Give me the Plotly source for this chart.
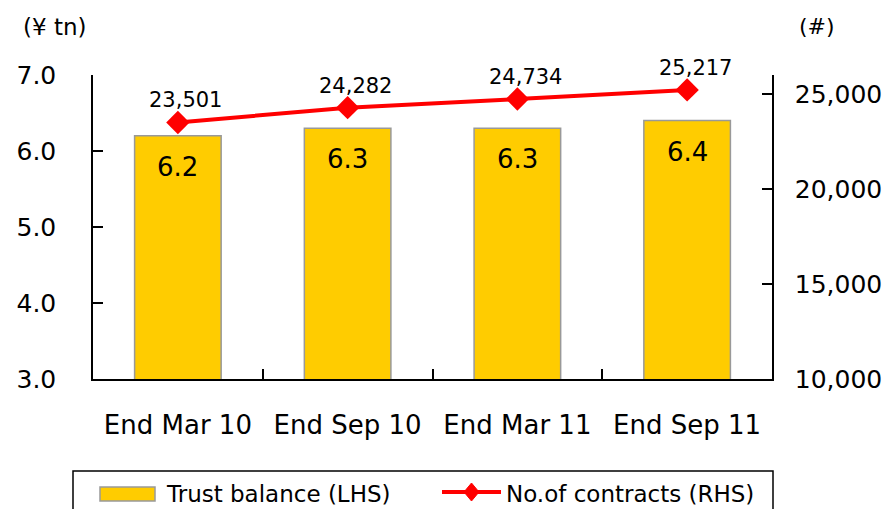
import plotly.graph_objects as go

# Trust balance and number of contracts by period end
categories = ["End Mar 10", "End Sep 10", "End Mar 11", "End Sep 11"]
trust_balance = [6.2, 6.3, 6.3, 6.4]          # ¥ tn (LHS)
contracts = [23501, 24282, 24734, 25217]       # count (RHS)

left_ticks = [3.0, 4.0, 5.0, 6.0, 7.0]
right_ticks = [10000, 15000, 20000, 25000]

series_names = ["Trust balance (LHS)", "No.of contracts (RHS)"]

FONT = "DejaVu Sans"
BAR_FILL, BAR_EDGE, LINE_RED = "#FFCC00", "#999999", "#FF0000"

W, H = 888, 509
L, R, T, B = 93, 116, 75, 130
pw, ph = W - L - R, H - T - B


def px_x(x):
    """Pixel x (from left) -> paper coordinate."""
    return (x - L) / pw


def px_y(y):
    """Pixel y (from top) -> paper coordinate."""
    return (H - B - y) / ph


fig = go.Figure()

fig.add_trace(go.Bar(
    x=categories, y=trust_balance, name=series_names[0],
    marker=dict(color=BAR_FILL, line=dict(color=BAR_EDGE, width=1.5)),
    yaxis="y",
))

fig.add_trace(go.Scatter(
    x=categories, y=contracts, name=series_names[1],
    mode="lines+markers",
    line=dict(color=LINE_RED, width=4),
    marker=dict(symbol="diamond", size=18, color=LINE_RED),
    yaxis="y2",
))

annotations = []
# value labels inside the bars
for c, v in zip(categories, trust_balance):
    annotations.append(dict(
        x=c, y=v, xref="x", yref="y", text=f"{v:.1f}", showarrow=False,
        yshift=-31, font=dict(family=FONT, size=26, color="black"),
    ))
# value labels above the line points
for c, v in zip(categories, contracts):
    annotations.append(dict(
        x=c, y=v, xref="x", yref="y2", text=f"{v:,}", showarrow=False,
        xshift=8, yshift=22, font=dict(family=FONT, size=21, color="black"),
    ))

# unit captions above each value axis
annotations.append(dict(
    x=px_x(55), y=px_y(27), xref="paper", yref="paper",
    xanchor="center", yanchor="middle",
    text="(¥ tn)", showarrow=False,
    font=dict(family=FONT, size=23, color="black"),
))
annotations.append(dict(
    x=px_x(817), y=px_y(27), xref="paper", yref="paper",
    xanchor="center", yanchor="middle",
    text="(#)", showarrow=False,
    font=dict(family=FONT, size=22, color="black"),
))

# legend: framed box below the category labels
shapes = [
    dict(type="rect", xref="paper", yref="paper",
         x0=px_x(73), x1=px_x(773), y0=px_y(530), y1=px_y(471),
         line=dict(color="black", width=1.5), fillcolor="white", layer="below"),
    dict(type="rect", xref="paper", yref="paper",
         x0=px_x(100), x1=px_x(155), y0=px_y(501), y1=px_y(487),
         line=dict(color=BAR_EDGE, width=1.5), fillcolor=BAR_FILL),
    dict(type="line", xref="paper", yref="paper",
         x0=px_x(442), x1=px_x(501), y0=px_y(492), y1=px_y(492),
         line=dict(color=LINE_RED, width=4)),
    dict(type="path", xref="paper", yref="paper",
         path=(f"M {px_x(471.5)} {px_y(483)} L {px_x(479)} {px_y(492)} "
               f"L {px_x(471.5)} {px_y(501)} L {px_x(464)} {px_y(492)} Z"),
         line=dict(color=LINE_RED, width=1), fillcolor=LINE_RED),
]
annotations.append(dict(
    x=px_x(164), y=px_y(494), xref="paper", yref="paper",
    xanchor="left", yanchor="middle", text=series_names[0], showarrow=False,
    font=dict(family=FONT, size=23, color="black"),
))
annotations.append(dict(
    x=px_x(504), y=px_y(494), xref="paper", yref="paper",
    xanchor="left", yanchor="middle", text=series_names[1], showarrow=False,
    font=dict(family=FONT, size=23, color="black"),
))

fig.update_layout(
    width=W, height=H,
    margin=dict(l=L, r=R, t=T, b=B, pad=0, autoexpand=False),
    paper_bgcolor="white", plot_bgcolor="white",
    font=dict(family=FONT, color="black"),
    bargap=0.49,
    showlegend=False,
    xaxis=dict(
        type="category", showline=True, linecolor="black", linewidth=1.5,
        ticks="inside", ticklen=10, tickcolor="black", tickwidth=1.5,
        tickson="boundaries", showgrid=False,
        tickfont=dict(family=FONT, size=26, color="black"),
        ticklabelstandoff=22,
    ),
    yaxis=dict(
        range=[3, 7], tickvals=left_ticks,
        ticktext=[f"{t:.1f}" for t in left_ticks],
        showline=True, linecolor="black", linewidth=1.5,
        ticks="inside", ticklen=10, tickcolor="black", tickwidth=1.5,
        showgrid=False, zeroline=False,
        tickfont=dict(family=FONT, size=25, color="black"),
        ticklabelstandoff=30,
    ),
    yaxis2=dict(
        range=[10000, 26000], tickvals=right_ticks,
        ticktext=[f"{t:,}" for t in right_ticks],
        overlaying="y", side="right",
        showline=True, linecolor="black", linewidth=1.5,
        ticks="inside", ticklen=10, tickcolor="black", tickwidth=1.5,
        showgrid=False, zeroline=False,
        tickfont=dict(family=FONT, size=25, color="black"),
        ticklabelstandoff=16,
    ),
    shapes=shapes,
    annotations=annotations,
)

fig.write_html("out.html")
